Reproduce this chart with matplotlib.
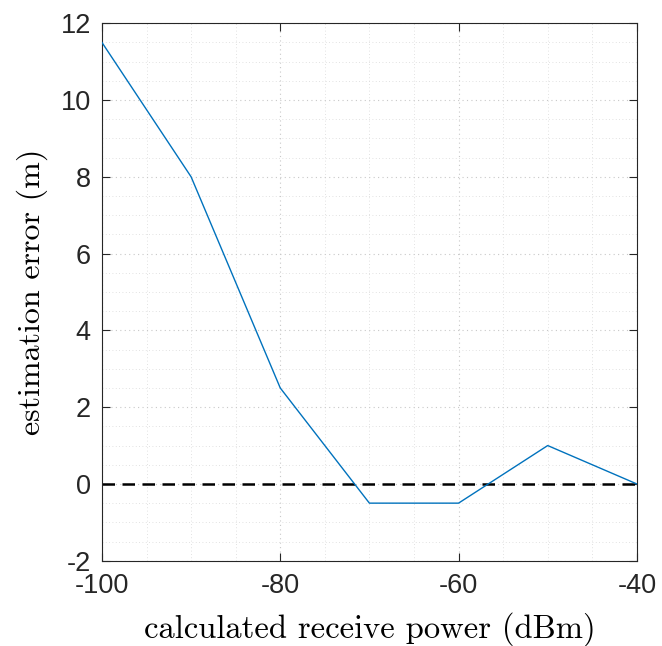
import matplotlib
matplotlib.use("Agg")
import matplotlib.pyplot as plt
from matplotlib.ticker import MultipleLocator

power_dbm = [-100, -90, -80, -70, -60, -50, -40]
error_m = [11.5, 8.0, 2.5, -0.5, -0.5, 1.0, 0.0]
x_ticks = [-100, -80, -60, -40]
y_ticks = [-2, 0, 2, 4, 6, 8, 10, 12]

plt.rcParams["font.family"] = ["Liberation Sans", "DejaVu Sans"]
plt.rcParams["axes.unicode_minus"] = False

fig = plt.figure(figsize=(6.62, 6.46), dpi=100)
ax = fig.add_axes([0.154, 0.132, 0.808, 0.832])

ax.plot(power_dbm, error_m, color="#0072BD", lw=1.0, zorder=3)
ax.axhline(0, color="black", lw=1.8, ls=(0, (5, 3)), zorder=2)

ax.set_xlim(-100, -40)
ax.set_ylim(-2, 12)
ax.set_xticks(x_ticks)
ax.set_yticks(y_ticks)
ax.xaxis.set_minor_locator(MultipleLocator(5))
ax.yaxis.set_minor_locator(MultipleLocator(0.5))

ax.grid(which="major", color="#c8c8c8", ls=(0, (1, 3)), lw=0.8)
ax.grid(which="minor", color="#d8d8d8", ls=(0, (1, 3)), lw=0.6)
ax.set_axisbelow(True)

ax.tick_params(which="both", direction="in", top=True, right=True,
               labelsize=19.5, color="#262626", labelcolor="#262626")
ax.tick_params(which="major", length=6, width=0.8)
ax.tick_params(axis="x", which="major", pad=9)
ax.tick_params(axis="y", which="major", pad=8)
ax.tick_params(which="minor", length=0)
for s in ax.spines.values():
    s.set_color("#262626")
    s.set_linewidth(0.8)

ax.set_xlabel("calculated receive power (dBm)", family="cmr10", fontsize=23.5, labelpad=9)
ax.set_ylabel("estimation error (m)", family="cmr10", fontsize=23, labelpad=9)

fig.savefig("out.png", dpi=100)
